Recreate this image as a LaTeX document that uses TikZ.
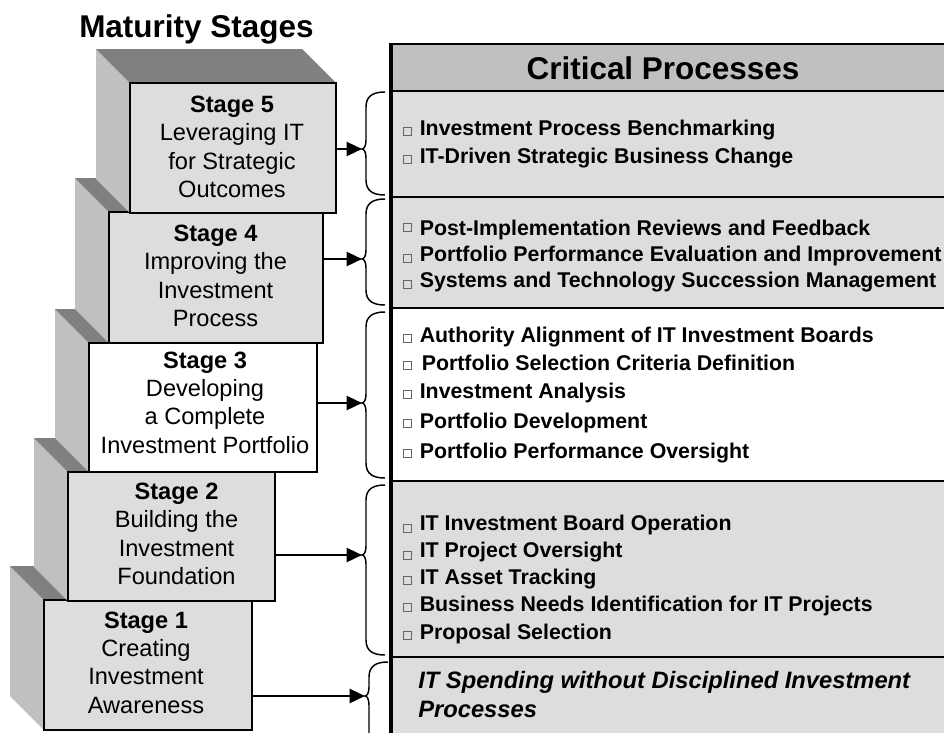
\documentclass[tikz,border=0pt]{standalone}
\usepackage{fontspec}
\setmainfont{Liberation Sans}
\usetikzlibrary{arrows.meta}
\definecolor{lg}{HTML}{DDDDDD}
\definecolor{mg}{HTML}{C0C0C0}
\definecolor{dg}{HTML}{808080}
\newcommand\sq[1][0pt]{\raisebox{#1}{\color{black!60}\setlength{\fboxrule}{0.5pt}\setlength{\fboxsep}{0pt}\fbox{\rule{0pt}{5.4pt}\rule{5.4pt}{0pt}}}\hspace{6pt}\ignorespaces}
\newcommand\stageblock[6]{%
  \fill[leftf] ({#2-34},{#3-34}) -- (#2,#3) -- (#2,#5) -- ({#2-34},{#5-34}) -- cycle;
  \fill[topf] ({#2-34},{#3-34}) -- ({#4-34},{#3-34}) -- (#4,#3) -- (#2,#3) -- cycle;
  \node[front, fill=#6, minimum width={(#4-#2)*0.75pt}, minimum height={(#5-#3)*0.75pt}] (#1) at ({(#2+#4)/2},{(#3+#5)/2}) {};
}
\newcommand\bracket[5]{%
  \draw[brc] ({#1+19},#2) .. controls ({#1+7},#2) and (#1,{#2+4}) .. (#1,{#2+15}) -- (#1,{#3-9})
    .. controls (#1,{#3-3}) and ({#1-2},#3) .. ({#1-4},#3)
    .. controls ({#1-2},#3) and (#1,{#3+3}) .. (#1,{#3+9}) -- (#1,{#4-15})
    .. controls (#1,{#4-4}) and ({#1+7},#4) .. ({#1+19},#4);
  \coordinate (#5) at ({#1-4},#3);
}
\begin{document}
\begin{tikzpicture}[x=0.75pt,y=-0.75pt,
  front/.style={draw=black, line width=1.4pt},
  topf/.style={fill=dg},
  leftf/.style={fill=mg},
  stx/.style={align=center, inner sep=0pt, font=\fontsize{17.7}{21.3}\selectfont},
  item/.style={anchor=base west, inner sep=0pt, font=\fontsize{16}{19}\selectfont\bfseries},
  itl/.style={anchor=base west, inner sep=0pt, font=\fontsize{17.8}{21.75}\selectfont\bfseries\itshape},
  brc/.style={line width=1.1pt},
  arr/.style={line width=1.8pt, -{Triangle[length=11.5pt,width=10.5pt]}},
  sepl/.style={line width=1.7pt}
]
\useasboundingbox (0,0) rectangle (944,732);
\clip (0,0) rectangle (944,732);
\fill[white] (0,0) rectangle (944,732);

% title
\node[anchor=base west, inner sep=0pt, font=\fontsize{23.6}{28}\selectfont\bfseries] (ms) at (79,37) {Maturity Stages};

% stage blocks (bottom first)
\stageblock{s1}{44}{600}{252}{730}{lg}
\stageblock{s2}{68}{472}{275}{601}{lg}
\stageblock{s3}{89}{343}{317}{472}{white}
\stageblock{s4}{109}{212}{323}{343}{lg}
\stageblock{s5}{130}{83}{336}{213}{lg}

\node[stx] (s5t) at (232,147) {\textbf{Stage 5}\\Leveraging IT\\for Strategic\\Outcomes};
\node[stx] (s4t) at (215.5,276) {\textbf{Stage 4}\\Improving the\\Investment\\Process};
\node[stx] (s3t) at (205,402.5) {\textbf{Stage 3}\\Developing\\a Complete\\Investment Portfolio};
\node[stx] (s2t) at (176.5,534) {\textbf{Stage 2}\\Building the\\Investment\\Foundation};
\node[stx] (s1t) at (146,662.5) {\textbf{Stage 1}\\Creating\\Investment\\Awareness};

% critical processes box
\fill[mg] (391,44) rectangle (960,91);
\fill[lg] (391,91) rectangle (960,308);
\fill[white] (391,308) rectangle (960,481);
\fill[lg] (391,481) rectangle (960,760);
\draw[line width=1.2pt] (391,44) -- (960,44);
\draw[sepl] (391,91) -- (960,91);
\draw[sepl] (391,197) -- (960,197);
\draw[sepl] (391,308) -- (960,308);
\draw[sepl] (391,481) -- (960,481);
\draw[sepl] (391,657) -- (960,657);
\draw[line width=2.3pt] (391,43) -- (391,760);

\node[font=\fontsize{23.6}{28}\selectfont\bfseries, inner sep=0pt] (cp) at (663,68) {Critical Processes};

% items
\node[item] (i51) at (403,135) {\sq Investment Process Benchmarking};
\node[item] (i52) at (403,163) {\sq IT-Driven Strategic Business Change};
\node[item] (i41) at (403,235) {\sq[3pt]Post-Implementation Reviews and Feedback};
\node[item] (i42) at (403,261) {\sq[-0.8pt]Portfolio Performance Evaluation and Improvement};
\node[item] (i43) at (403,287) {\sq[-1pt]Systems and Technology Succession Management};
\node[item] (i31) at (403,342) {\sq Authority Alignment of IT Investment Boards};
\node[item] (i32) at (403,370) {\sq[0.8pt]\hspace{1.5pt}Portfolio Selection Criteria Definition};
\node[item] (i33) at (403,398) {\sq Investment Analysis};
\node[item] (i34) at (403,428) {\sq[1pt]Portfolio Development};
\node[item] (i35) at (403,458) {\sq[1pt]Portfolio Performance Oversight};
\node[item] (i21) at (403,530) {\sq[-1.5pt]IT Investment Board Operation};
\node[item] (i22) at (403,557) {\sq[-1.5pt]IT Project Oversight};
\node[item] (i23) at (403,584) {\sq IT Asset Tracking};
\node[item] (i24) at (403,611) {\sq Business Needs Identification for IT Projects};
\node[item] (i25) at (403,639) {\sq Proposal Selection};
\node[itl] (i11) at (418,688) {IT Spending without Disciplined Investment};
\node[itl] (i12) at (418,717) {Processes};

% braces
\bracket{366}{92}{149}{195}{t5}
\bracket{366}{199}{259}{305}{t4}
\bracket{366}{312}{403}{478}{t3}
\bracket{366}{485}{555}{655}{t2}
\bracket{369}{662}{696}{790}{t1}

% arrows
\draw[arr] (t5 -| s5.east) -- (t5);
\draw[arr] (t4 -| s4.east) -- (t4);
\draw[arr] (t3 -| s3.east) -- (t3);
\draw[arr] (t2 -| s2.east) -- (t2);
\draw[arr] (t1 -| s1.east) -- (t1);
\end{tikzpicture}
\end{document}
